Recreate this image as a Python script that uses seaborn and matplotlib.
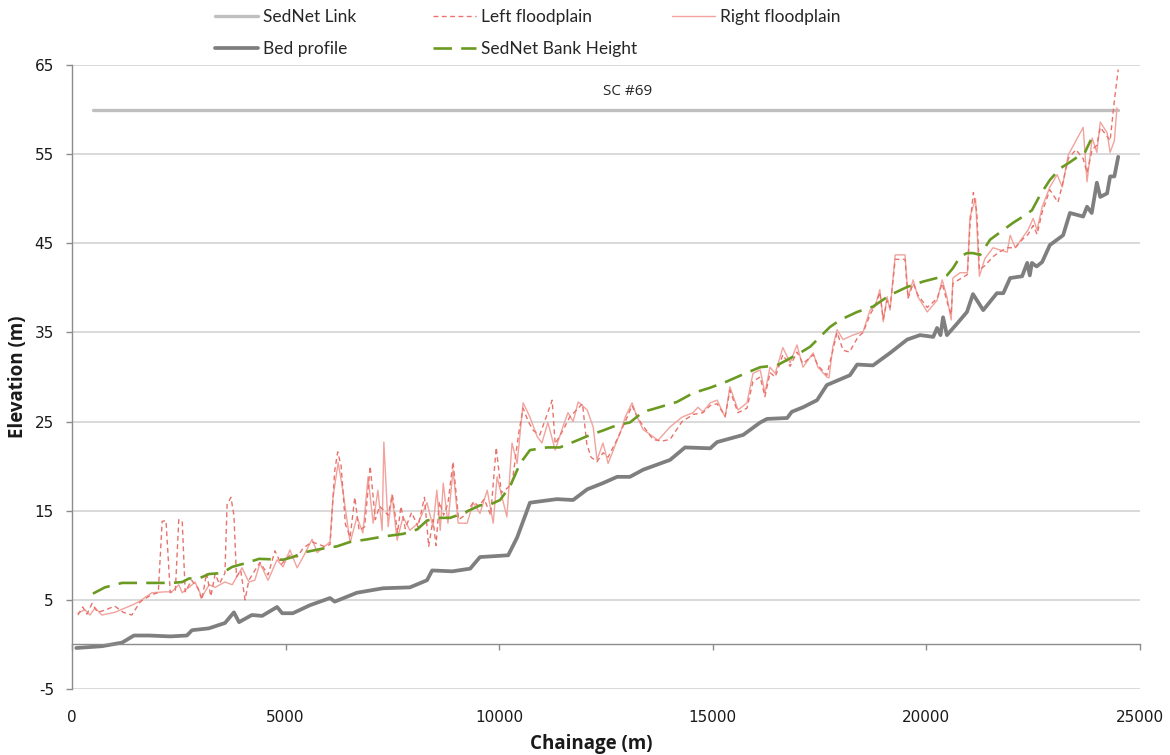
import matplotlib
matplotlib.use("Agg")
import matplotlib.pyplot as plt
from matplotlib.lines import Line2D
import seaborn as sns

sns.set_theme(style="white")
plt.rcParams["font.family"] = ["DejaVu Sans"]

# ---- series -------------------------------------------------------------
link_x = [500, 24480]
link_y = [60, 60]

bed_x = [100, 400, 700, 1170, 1450, 1800, 2300, 2690, 2810, 3200,
         3580, 3790, 3910, 4210, 4450, 4800, 4920, 5170, 5570, 6040,
         6150, 6670, 7280, 7910, 8310, 8430, 8900, 9320, 9550, 10210,
         10420, 10720, 11350, 11730, 12060, 12430, 12760, 13060, 13370, 14000,
         14350, 14940, 15100, 15710, 16110, 16270, 16740, 16850, 17110, 17440,
         17670, 18210, 18380, 18750, 19150, 19550, 19850, 20160, 20250, 20330,
         20390, 20480, 20720, 20950, 21090, 21330, 21650, 21800, 21960, 22240,
         22360, 22420, 22470, 22580, 22710, 22890, 23200, 23360, 23670, 23760,
         23870, 23990, 24070, 24230, 24300, 24400, 24490]
bed_y = [-0.4, -0.3, -0.2, 0.2, 1.0, 1.0, 0.9, 1.0, 1.6, 1.8,
         2.4, 3.6, 2.5, 3.3, 3.2, 4.2, 3.5, 3.5, 4.4, 5.2,
         4.8, 5.8, 6.3, 6.4, 7.2, 8.3, 8.2, 8.5, 9.8, 10.0,
         12.0, 15.9, 16.3, 16.2, 17.4, 18.1, 18.8, 18.8, 19.6, 20.7,
         22.1, 22.0, 22.7, 23.5, 24.9, 25.3, 25.4, 26.1, 26.6, 27.4,
         29.1, 30.2, 31.4, 31.3, 32.7, 34.2, 34.7, 34.5, 35.5, 34.7,
         36.7, 34.7, 36.0, 37.3, 39.3, 37.5, 39.4, 39.4, 41.1, 41.3,
         42.8, 41.4, 42.8, 42.4, 42.9, 44.8, 45.9, 48.4, 48.0, 49.1,
         48.4, 51.8, 50.2, 50.6, 52.5, 52.5, 54.7]

bank_x = [490, 770, 1170, 2340, 2580, 2740, 2970, 3210, 3510, 3750,
          4050, 4380, 4940, 5170, 5410, 5810, 6200, 6510, 6930, 7280,
          7750, 8080, 8310, 8620, 8850, 9150, 9550, 9790, 10020, 10250,
          10490, 10720, 11120, 11420, 11730, 12130, 12430, 12760, 13060, 13370,
          13600, 14160, 14540, 14940, 15330, 15710, 16110, 16500, 16810, 17040,
          17280, 17740, 17980, 18380, 18750, 19150, 19550, 19920, 20320, 20480,
          20620, 20790, 20950, 21090, 21260, 21490, 21800, 22030, 22260, 22470,
          22660, 22890, 23130, 23360, 23600, 23710, 23850]
bank_y = [5.7, 6.4, 6.9, 6.9, 7.0, 7.4, 7.4, 7.9, 8.0, 8.7,
          9.1, 9.6, 9.5, 9.8, 10.3, 10.7, 11.0, 11.5, 11.8, 12.1,
          12.4, 12.9, 13.9, 14.2, 14.2, 14.7, 15.6, 15.7, 16.2, 17.7,
          20.3, 21.8, 22.1, 22.1, 22.7, 23.5, 24.0, 24.6, 24.9, 26.1,
          26.4, 27.2, 28.2, 28.8, 29.5, 30.3, 31.1, 31.3, 32.1, 32.7,
          33.4, 35.6, 36.4, 37.3, 37.9, 39.2, 40.1, 40.7, 41.2, 41.4,
          42.2, 43.5, 43.9, 43.9, 43.7, 45.4, 46.5, 47.3, 48.0, 48.7,
          50.4, 52.1, 53.4, 54.1, 54.9, 55.2, 56.6]

right_x = [140, 300, 420, 540, 700, 1000, 1400, 1570, 1870, 2180,
           2340, 2500, 2580, 2740, 2880, 3040, 3210, 3350, 3580, 3750,
           3980, 4140, 4280, 4400, 4590, 4800, 4940, 5100, 5270, 5410,
           5620, 5740, 6040, 6110, 6230, 6340, 6510, 6670, 6810, 6930,
           7050, 7160, 7260, 7300, 7400, 7490, 7610, 7750, 7910, 8100,
           8310, 8450, 8540, 8620, 8690, 8800, 8920, 9040, 9250, 9390,
           9550, 9720, 9860, 9950, 10180, 10300, 10420, 10560, 10720, 10890,
           11000, 11140, 11310, 11490, 11610, 11730, 11850, 12060, 12200, 12290,
           12430, 12550, 12760, 12830, 12950, 13110, 13230, 13370, 13720, 14000,
           14280, 14540, 14650, 14770, 14940, 15100, 15290, 15400, 15590, 15800,
           15940, 16110, 16220, 16340, 16460, 16640, 16810, 16970, 17110, 17350,
           17460, 17670, 17720, 17810, 17910, 18050, 18280, 18520, 18680, 18800,
           18910, 18990, 19080, 19150, 19270, 19500, 19570, 19690, 19800, 20020,
           20250, 20370, 20480, 20580, 20620, 20790, 20960, 21020, 21150, 21240,
           21370, 21560, 21890, 21960, 22080, 22260, 22380, 22500, 22590, 22710,
           22890, 23060, 23180, 23320, 23670, 23760, 23880, 23990, 24070, 24230,
           24300, 24400, 24460]
right_y = [3.5, 3.9, 3.3, 4.1, 3.3, 3.6, 4.4, 4.8, 5.8, 5.9,
           5.9, 6.7, 5.8, 6.4, 7.0, 5.3, 6.7, 6.4, 7.0, 6.7,
           8.6, 7.0, 7.2, 9.1, 7.2, 9.5, 8.7, 10.6, 8.6, 9.8,
           11.8, 10.3, 11.5, 16.5, 20.4, 17.3, 11.4, 14.3, 12.5, 18.8,
           13.6, 17.3, 12.8, 22.7, 13.2, 16.8, 11.7, 14.3, 12.8, 13.6,
           15.9, 13.2, 17.3, 12.8, 18.1, 13.6, 19.6, 13.6, 13.6, 15.9,
           14.7, 17.3, 13.6, 18.8, 14.3, 22.6, 20.3, 27.1, 25.5, 23.3,
           22.6, 24.9, 21.8, 24.4, 26.0, 25.0, 27.2, 26.3, 24.4, 20.7,
           22.6, 20.3, 22.9, 23.7, 25.5, 27.1, 25.5, 24.1, 22.9, 24.4,
           25.5, 26.0, 26.6, 26.1, 27.1, 27.4, 25.5, 28.9, 26.3, 27.1,
           30.4, 30.8, 28.2, 31.1, 30.4, 33.3, 31.6, 33.6, 31.1, 32.7,
           31.1, 30.0, 29.9, 33.4, 35.3, 34.2, 34.7, 35.1, 37.5, 37.9,
           39.8, 36.2, 39.0, 37.5, 43.7, 43.7, 38.9, 40.9, 39.0, 37.3,
           38.6, 40.9, 39.0, 36.4, 41.1, 41.7, 41.7, 48.0, 50.0, 41.3,
           43.3, 44.5, 44.0, 45.9, 44.5, 45.7, 46.5, 47.8, 46.5, 49.1,
           51.3, 52.7, 51.3, 54.9, 58.0, 51.9, 56.8, 55.2, 58.6, 57.4,
           55.2, 56.5, 60.2]

left_x = [140, 250, 350, 470, 600, 800, 1000, 1200, 1400, 1600,
          1870, 2020, 2110, 2200, 2300, 2420, 2500, 2580, 2650, 2800,
          2950, 3040, 3150, 3250, 3350, 3450, 3580, 3630, 3720, 3790,
          3850, 3950, 4050, 4140, 4280, 4400, 4590, 4750, 4900, 5100,
          5270, 5410, 5620, 5900, 6040, 6150, 6220, 6300, 6400, 6510,
          6620, 6720, 6850, 6980, 7100, 7200, 7400, 7500, 7620, 7700,
          7800, 7950, 8100, 8250, 8350, 8450, 8520, 8600, 8700, 8800,
          8920, 9050, 9200, 9400, 9520, 9650, 9800, 9930, 10050, 10180,
          10300, 10450, 10560, 10680, 10800, 10950, 11100, 11240, 11310, 11490,
          11650, 11850, 11950, 12050, 12150, 12290, 12430, 12550, 12760, 12950,
          13110, 13230, 13370, 13600, 13800, 14000, 14280, 14540, 14770, 14940,
          15100, 15290, 15400, 15590, 15800, 15940, 16110, 16220, 16340, 16460,
          16640, 16810, 16970, 17110, 17350, 17460, 17670, 17810, 17910, 18050,
          18200, 18400, 18520, 18680, 18800, 18910, 18990, 19080, 19150, 19270,
          19500, 19570, 19690, 19800, 20020, 20250, 20370, 20480, 20580, 20620,
          20790, 20960, 21020, 21100, 21180, 21240, 21370, 21560, 21700, 21890,
          22080, 22260, 22380, 22500, 22590, 22710, 22890, 23080, 23180, 23320,
          23500, 23670, 23760, 23880, 23990, 24070, 24230, 24300, 24400, 24490]
left_y = [3.3, 4.2, 3.4, 4.6, 3.6, 3.9, 4.3, 3.6, 3.3, 4.8,
          5.6, 5.8, 13.8, 13.9, 5.8, 6.1, 14.0, 13.8, 5.9, 7.2,
          6.3, 5.0, 8.0, 5.4, 7.9, 6.8, 8.0, 15.7, 16.5, 14.5,
          7.6, 8.3, 5.0, 7.2, 8.3, 9.2, 7.8, 10.5, 9.0, 10.0,
          9.8, 10.8, 11.5, 11.0, 11.2, 19.5, 21.6, 20.0, 13.5, 12.0,
          16.5, 12.8, 13.2, 20.0, 14.0, 15.5, 14.5, 16.8, 12.5, 15.5,
          13.0, 14.8, 13.2, 16.5, 11.0, 14.0, 11.1, 16.0, 14.5, 15.8,
          20.5, 14.0, 14.5, 16.0, 15.5, 16.3, 14.5, 22.1, 17.0, 17.5,
          18.0, 23.5, 26.5, 25.0, 24.0, 23.5, 25.5, 27.4, 22.5, 24.0,
          25.5, 26.5, 27.0, 22.5, 21.0, 20.5, 21.5, 21.0, 23.0, 25.0,
          26.8, 25.5, 24.5, 23.0, 22.8, 23.0, 25.0, 25.8, 26.0, 26.8,
          27.0, 25.6, 28.5, 26.0, 26.5, 29.5, 30.0, 27.8, 30.5, 30.0,
          32.5, 31.2, 32.8, 31.5, 32.5, 31.3, 30.2, 33.0, 35.0, 33.0,
          32.8, 34.5, 35.0, 37.0, 38.0, 39.5, 36.5, 38.6, 37.8, 43.2,
          43.2, 38.8, 40.5, 39.2, 37.8, 38.8, 40.5, 38.5, 37.0, 40.5,
          41.0, 41.5, 47.0, 50.7, 48.5, 42.0, 42.5, 43.5, 44.0, 44.5,
          44.5, 45.5, 46.0, 47.0, 46.0, 48.5, 51.0, 49.6, 51.5, 54.5,
          55.5, 54.5, 52.9, 55.5, 56.0, 58.0, 57.0, 56.5, 61.0, 64.5]

link_label = "SC #69"
x_ticks = [0, 5000, 10000, 15000, 20000, 25000]
y_ticks = [-5, 5, 15, 25, 35, 45, 55, 65]

# ---- style --------------------------------------------------------------
C_LINK = "#bfbfbf"
C_LEFT = "#e8736c"
C_RIGHT = "#f2a39d"
C_BED = "#7f7f7f"
C_BANK = "#6b9a22"
C_GRID = "#d0d0d0"
C_AXIS = "#8c8c8c"

fig = plt.figure(figsize=(11.7, 7.55), dpi=100)
L, B, W, H = 72 / 1170, 66 / 755, 1068 / 1170, 624 / 755
ax = fig.add_axes([L, B, W, H])

common = dict(ax=ax, estimator=None, sort=False, legend=False)
sns.lineplot(x=link_x, y=link_y, color=C_LINK, lw=2.4, zorder=3, **common)
sns.lineplot(x=right_x, y=right_y, color=C_RIGHT, lw=1.0, zorder=4, **common)
sns.lineplot(x=left_x, y=left_y, color=C_LEFT, lw=1.0,
             linestyle=(0, (3.5, 2.5)), zorder=5, **common)
sns.lineplot(x=bed_x, y=bed_y, color=C_BED, lw=2.7, zorder=6, **common)
sns.lineplot(x=bank_x, y=bank_y, color=C_BANK, lw=1.9,
             linestyle=(0, (7, 3.5)), zorder=7, **common)

ax.text(13000, 62.0, link_label, ha="center", va="center",
        fontsize=11, family=["Open Sans", "DejaVu Sans"], color="#262626")

ax.set_xlim(0, 25000)
ax.set_ylim(-5, 65)
ax.set_xticks(x_ticks)
ax.set_yticks(y_ticks)
ax.set_xticklabels([str(v) for v in x_ticks])
ax.set_yticklabels([str(v) for v in y_ticks])
ax.grid(axis="y", color=C_GRID, lw=1.1, zorder=0)
ax.grid(axis="x", visible=False)
for side in ("top", "right", "bottom"):
    ax.spines[side].set_visible(False)
ax.spines["left"].set_color(C_AXIS)
ax.spines["left"].set_linewidth(1.0)
ax.tick_params(axis="x", length=0, pad=15, labelsize=11, labelcolor="#1a1a1a")
ax.tick_params(axis="y", left=True, length=4, width=1.0, color=C_AXIS,
               pad=9, labelsize=11, labelcolor="#1a1a1a")

# horizontal axis line crossing at zero, with its own tick marks
zero_frac = (0 - (-5)) / 70
ax0 = fig.add_axes([L, B + H * zero_frac, W, 0.01], sharex=ax)
ax0.patch.set_alpha(0)
for side in ("top", "right", "left"):
    ax0.spines[side].set_visible(False)
ax0.spines["bottom"].set_color(C_AXIS)
ax0.spines["bottom"].set_linewidth(1.0)
ax0.set_yticks([])
ax0.tick_params(axis="x", bottom=True, direction="out", length=4, width=1.0,
                color=C_AXIS, labelbottom=False)
ax0.grid(False)

lab_font = dict(family=["Open Sans", "DejaVu Sans"], fontsize=13.5,
                fontweight="bold", color="#1a1a1a")
ax.set_xlabel("Chainage (m)", **lab_font)
ax.set_ylabel("Elevation (m)", **lab_font)
ax.xaxis.set_label_coords((591 - 72) / 1068, -(734 - 689) / 624)
ax.yaxis.set_label_coords((28 - 72) / 1068, 0.5)

# legend laid out as a 3 x 2 grid above the plot
def handle(color, lw, ls="-"):
    return Line2D([], [], color=color, lw=lw, linestyle=ls)

leg_kw = dict(loc="upper left", frameon=False, borderaxespad=0, borderpad=0,
              handlelength=2.5, handletextpad=0.25, labelspacing=0.95,
              prop=dict(family=["Lato", "DejaVu Sans"], size=12.5))
columns = [
    (215, [(handle(C_LINK, 2.4), "SedNet Link"),
           (handle(C_BED, 2.7), "Bed profile")]),
    (433, [(handle(C_LEFT, 1.0, (0, (3.5, 2.5))), "Left floodplain"),
           (handle(C_BANK, 1.9, (0, (7, 3.5))), "SedNet Bank Height")]),
    (672, [(handle(C_RIGHT, 1.0), "Right floodplain")]),
]
for xpix, items in columns:
    fig.legend([h for h, _ in items], [t for _, t in items],
               bbox_to_anchor=(xpix / 1170, 1 - 9 / 755), **leg_kw)

fig.savefig("out.png", dpi=100)
